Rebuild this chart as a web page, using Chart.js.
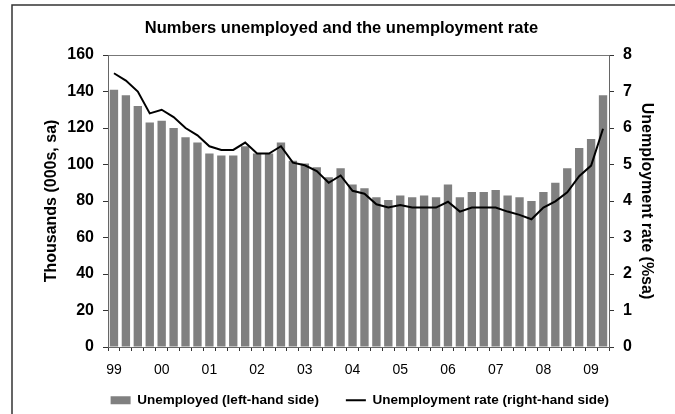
<!DOCTYPE html>
<html lang="en">
<head>
  <meta charset="UTF-8">
  <title>Numbers unemployed and the unemployment rate</title>
  <script src="https://cdn.jsdelivr.net/npm/chart.js"></script>
  <style>
    html, body { margin: 0; padding: 0; background: #ffffff; }
    #wrap { width: 675px; height: 414px; position: relative; }
  </style>
</head>
<body>
  <div id="wrap"><canvas id="chart"></canvas></div>

  <script>
  // quarters, 1999 Q1 .. 2009 Q2
  const categories = [
    '1999 Q1','1999 Q2','1999 Q3','1999 Q4',
    '2000 Q1','2000 Q2','2000 Q3','2000 Q4',
    '2001 Q1','2001 Q2','2001 Q3','2001 Q4',
    '2002 Q1','2002 Q2','2002 Q3','2002 Q4',
    '2003 Q1','2003 Q2','2003 Q3','2003 Q4',
    '2004 Q1','2004 Q2','2004 Q3','2004 Q4',
    '2005 Q1','2005 Q2','2005 Q3','2005 Q4',
    '2006 Q1','2006 Q2','2006 Q3','2006 Q4',
    '2007 Q1','2007 Q2','2007 Q3','2007 Q4',
    '2008 Q1','2008 Q2','2008 Q3','2008 Q4',
    '2009 Q1','2009 Q2'
  ];

  // thousands, seasonally adjusted (left axis)
  const unemployed = [
    141, 138, 132, 123, 124, 120, 115, 112,
    106, 105, 105, 110, 106, 106, 112, 102,
    100.5, 98.5, 93, 98, 89, 87, 82, 80.5,
    83, 82, 83, 82, 89, 82, 85, 85,
    86, 83, 82, 80, 85, 90, 98, 109,
    114, 138
  ];

  // per cent, seasonally adjusted (right axis)
  const rate = [
    7.5, 7.3, 7.0, 6.4, 6.5, 6.3, 6.0, 5.8,
    5.5, 5.4, 5.4, 5.6, 5.3, 5.3, 5.5, 5.05,
    4.98, 4.82, 4.5, 4.7, 4.28, 4.2, 3.91, 3.82,
    3.89, 3.82, 3.82, 3.82, 3.98, 3.71, 3.82, 3.82,
    3.82, 3.71, 3.62, 3.5, 3.82, 3.99, 4.24, 4.68,
    4.97, 5.98
  ];

  const leftTicks = [0, 20, 40, 60, 80, 100, 120, 140, 160];
  const rightTicks = [0, 1, 2, 3, 4, 5, 6, 7, 8];

  Chart.defaults.font.family = '"Liberation Sans", Arial, sans-serif';
  Chart.defaults.color = '#000000';

  // the outer frame of the picture (only top and left edges show)
  const framePlugin = {
    id: 'frame',
    beforeDraw(chart) {
      // let the year labels hang below the short x axis box
      chart.scales.x._computeLabelArea = function() { return undefined; };
    },
    afterDraw(chart) {
      const c = chart.ctx;
      c.save();
      c.strokeStyle = '#333333';
      c.lineWidth = 1.5;
      c.beginPath();
      c.moveTo(12, 414);
      c.lineTo(12, 5);
      c.lineTo(675, 5);
      c.stroke();
      c.restore();
    }
  };

  const ctx = document.getElementById('chart').getContext('2d');
  const chart = new Chart(ctx, {
    data: {
      labels: categories,
      datasets: [{
        type: 'line',
        label: 'Unemployment rate (right-hand side)',
        data: rate,
        yAxisID: 'y2',
        borderColor: '#000000',
        backgroundColor: '#000000',
        borderWidth: 2,
        pointRadius: 0,
        pointStyle: 'line',
        tension: 0,
        fill: false
      }, {
        type: 'bar',
        label: 'Unemployed (left-hand side)',
        data: unemployed,
        yAxisID: 'y',
        backgroundColor: '#808080',
        borderWidth: 0,
        pointStyle: 'rect',
        categoryPercentage: 1.0,
        barPercentage: 0.7
      }]
    },
    options: {
      responsive: true,
      maintainAspectRatio: false,
      animation: false,
      layout: {
        padding: { left: 44.5, right: 0, top: 0, bottom: -3 }
      },
      scales: {
        x: {
          offset: true,
          border: { color: '#666666', width: 1 },
          grid: {
            offset: true,
            drawOnChartArea: false,
            tickLength: 4,
            tickColor: '#333333'
          },
          ticks: {
            autoSkip: false,
            maxRotation: 0,
            padding: 11,
            font: { size: 14 },
            callback: function(value, index) {
              const c = categories[index];
              return c.endsWith('Q1') ? c.slice(2, 4) : '';
            }
          },
          afterFit: function(scale) { scale.height = 19.5; }
        },
        y: {
          position: 'left',
          min: 0,
          max: 160,
          afterBuildTicks: function(scale) {
            scale.ticks = leftTicks.map(v => ({ value: v }));
          },
          border: { color: '#666666', width: 1 },
          grid: {
            drawOnChartArea: true,
            tickLength: 5,
            tickColor: '#333333',
            color: c => (c.tick && c.tick.value === 160) ? '#777777' : 'rgba(0,0,0,0)'
          },
          ticks: {
            padding: 9,
            font: { size: 16, weight: 'bold' }
          },
          title: {
            display: true,
            text: 'Thousands (000s, sa)',
            font: { size: 16, weight: 'bold' },
            padding: { top: -2.9, bottom: 0 }
          },
          afterFit: function(scale) { scale.width = 63.5; }
        },
        y2: {
          position: 'right',
          min: 0,
          max: 8,
          afterBuildTicks: function(scale) {
            scale.ticks = rightTicks.map(v => ({ value: v }));
          },
          border: { color: '#666666', width: 1 },
          grid: {
            drawOnChartArea: false,
            tickLength: 5,
            tickColor: '#333333'
          },
          ticks: {
            padding: 9,
            font: { size: 16, weight: 'bold' }
          },
          title: {
            display: true,
            text: 'Unemployment rate (%sa)',
            font: { size: 16, weight: 'bold' },
            padding: { top: 18.6, bottom: 0 }
          },
          afterFit: function(scale) { scale.width = 66; }
        }
      },
      plugins: {
        title: {
          display: true,
          // trailing spaces pull the centred title back over the canvas middle
          text: 'Numbers unemployed and the unemployment rate        ',
          font: { size: 16.5, weight: 'bold' },
          color: '#000000',
          padding: { top: 19, bottom: 16.2 }
        },
        legend: {
          position: 'bottom',
          reverse: true,
          labels: {
            usePointStyle: true,
            pointStyleWidth: 20,
            boxWidth: 20,
            boxHeight: 8,
            padding: 27,
            color: '#000000',
            font: { size: 13.5, weight: 'bold' }
          }
        },
        tooltip: { enabled: false }
      }
    },
    plugins: [framePlugin]
  });
  </script>
</body>
</html>
